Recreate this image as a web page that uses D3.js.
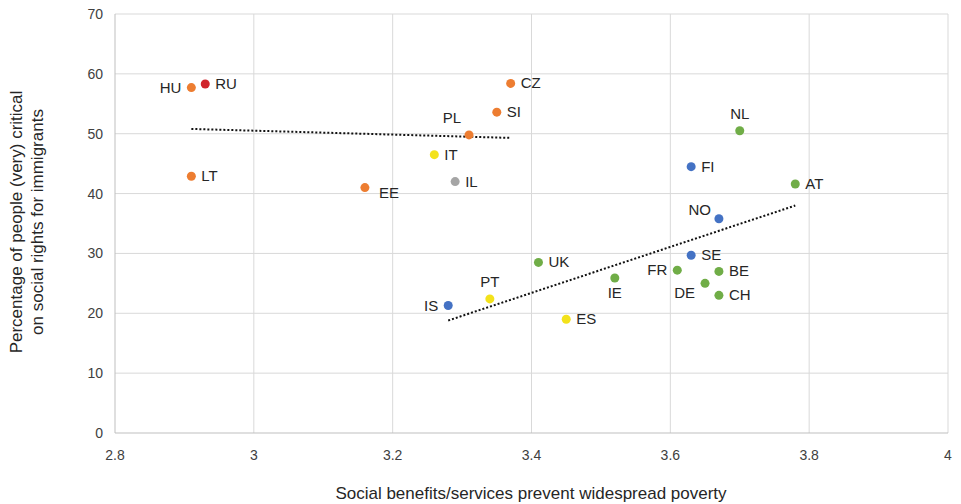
<!DOCTYPE html>
<html><head><meta charset="utf-8">
<script src="https://cdn.jsdelivr.net/npm/d3@7"></script>
<style>body{margin:0;background:#fff;font-family:"Liberation Sans",Arial,sans-serif}</style>
</head><body><svg id="c" width="961" height="504"></svg>
<script>
const countries = ["HU","RU","LT","EE","CZ","SI","PL","IT","IL","UK","PT","IS","ES","IE","FI","NL","AT","NO","SE","FR","BE","DE","CH"];
const benefits = [2.91,2.93,2.91,3.16,3.37,3.35,3.31,3.26,3.29,3.41,3.34,3.28,3.45,3.52,3.63,3.70,3.78,3.67,3.63,3.61,3.67,3.65,3.67];
const critical = [57.7,58.3,42.9,41.0,58.4,53.6,49.8,46.5,42.0,28.5,22.4,21.3,19.0,25.9,44.5,50.5,41.6,35.8,29.7,27.2,27.0,25.0,23.0];
const groups = ["east","red","east","east","east","east","east","south","other","west","south","nordic","south","west","nordic","west","west","nordic","nordic","west","west","west","west"];
const trendEast = [[2.91,50.8],[3.37,49.3]];
const trendWest = [[3.28,18.8],[3.78,38.0]];
const xTicks = [2.8,3,3.2,3.4,3.6,3.8,4];
const yTicks = [0,10,20,30,40,50,60,70];

const colors = {east:"#ED7D31",red:"#D0242B",south:"#F3E21B",other:"#A5A5A5",west:"#70AD47",nordic:"#4472C4"};
// label placement: [dx, dy, anchor]
const lab = {HU:[-10,5,"end"],IS:[-10,5,"end"],FR:[-10,5,"end"],DE:[-10,15,"end"],NO:[-8,-4,"end"],
  PL:[-8,-12,"end"],PT:[0,-12,"middle"],IE:[0,20,"middle"],NL:[0,-12,"middle"],EE:[14,10,"start"]};

const svg = d3.select("#c");
const x = d3.scaleLinear().domain([2.8,4]).range([115,948]);
const y = d3.scaleLinear().domain([0,70]).range([433,14]);

svg.append("g").selectAll("line").data(yTicks.slice(1)).join("line")
  .attr("x1",115).attr("x2",948).attr("y1",d=>y(d)).attr("y2",d=>y(d)).attr("stroke","#d9d9d9");
svg.append("g").selectAll("line").data(xTicks.slice(1)).join("line")
  .attr("y1",14).attr("y2",433).attr("x1",d=>x(d)).attr("x2",d=>x(d)).attr("stroke","#d9d9d9");
svg.append("line").attr("x1",115).attr("x2",948).attr("y1",433).attr("y2",433).attr("stroke","#bfbfbf");
svg.append("line").attr("x1",115).attr("x2",115).attr("y1",14).attr("y2",433).attr("stroke","#bfbfbf");

svg.append("g").selectAll("text").data(yTicks).join("text")
  .attr("x",103).attr("y",d=>y(d)+5).attr("text-anchor","end").attr("font-size",14).attr("fill","#404040").text(d=>d);
svg.append("g").selectAll("text").data(xTicks).join("text")
  .attr("x",d=>x(d)).attr("y",460).attr("text-anchor","middle").attr("font-size",14).attr("fill","#404040").text(d=>d);

const line = d3.line().x(d=>x(d[0])).y(d=>y(d[1]));
[trendEast,trendWest].forEach(t=>svg.append("path").attr("d",line(t)).attr("fill","none")
  .attr("stroke","#111").attr("stroke-width",2).attr("stroke-dasharray","2,2"));

const pts = countries.map((c,i)=>({c,x:benefits[i],y:critical[i],g:groups[i]}));
svg.append("g").selectAll("circle").data(pts).join("circle")
  .attr("cx",d=>x(d.x)).attr("cy",d=>y(d.y)).attr("r",4.5).attr("fill",d=>colors[d.g]);
svg.append("g").selectAll("text").data(pts).join("text")
  .attr("x",d=>x(d.x)+(lab[d.c]?lab[d.c][0]:10))
  .attr("y",d=>y(d.y)+(lab[d.c]?lab[d.c][1]:5))
  .attr("text-anchor",d=>lab[d.c]?lab[d.c][2]:"start")
  .attr("font-size",15).attr("fill","#262626").text(d=>d.c);

svg.append("text").attr("x",531).attr("y",499).attr("text-anchor","middle").attr("font-size",17).attr("fill","#262626")
  .text("Social benefits/services prevent widespread poverty");
const yt = svg.append("text").attr("transform","translate(22,222) rotate(-90)").attr("text-anchor","middle").attr("font-size",17).attr("fill","#262626");
yt.append("tspan").attr("x",0).attr("dy",0).text("Percentage of people (very) critical");
yt.append("tspan").attr("x",0).attr("dy",21).text("on social rights for immigrants");
</script></body></html>
